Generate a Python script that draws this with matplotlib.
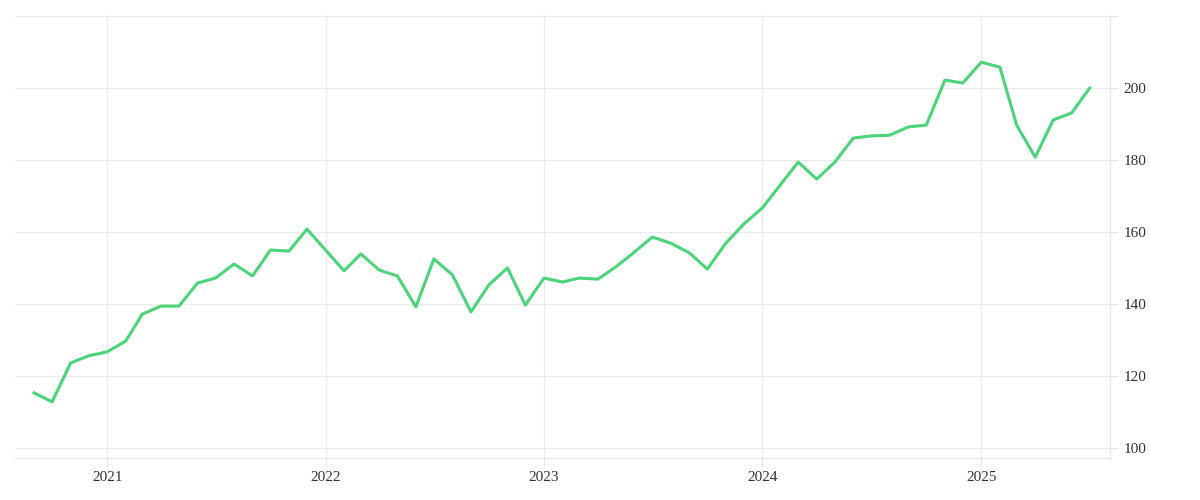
import pandas as pd
import matplotlib
matplotlib.use('Agg')
from matplotlib import pyplot as plt
import matplotlib.dates as mdates

dates = pd.date_range('2020-09-01', periods=59, freq='MS')
values = [115.3, 112.8, 123.6, 125.6, 126.7, 129.7, 137.2, 139.4, 139.4, 145.8,
          147.2, 151.1, 147.8, 155.0, 154.7, 160.8, 155.0, 149.2, 153.9, 149.4,
          147.8, 139.2, 152.5, 148.1, 137.8, 145.3, 150.0, 139.7, 147.2, 146.1,
          147.2, 146.9, 150.3, 154.4, 158.6, 156.9, 154.2, 149.7, 156.9, 162.2,
          166.7, 173.3, 179.4, 174.7, 179.4, 186.1, 186.7, 186.9, 189.2, 189.7,
          202.2, 201.4, 207.2, 205.8, 189.7, 180.8, 191.1, 193.1, 200.0]
yticks = [100, 120, 140, 160, 180, 200]

plt.rcParams['font.family'] = ['Liberation Serif', 'DejaVu Serif']
fig = plt.figure(figsize=(12, 5), dpi=100)
ax = fig.add_axes([0.0125, 0.084, 0.9125, 0.886])
ax.plot(dates, values, color='#4cd47a', linewidth=2.2)

ax.set_ylim(97.2, 220.3)
ax.set_xlim(pd.Timestamp('2020-07-31'), pd.Timestamp('2025-08-04'))
ax.yaxis.tick_right()
ax.set_yticks(yticks + [220])
ax.set_yticklabels([str(v) for v in yticks] + [''])
ax.xaxis.set_major_locator(mdates.YearLocator())
ax.xaxis.set_major_formatter(mdates.DateFormatter('%Y'))
ax.grid(True, color='#ebebeb', linewidth=0.8)
for s in ['top', 'left']:
    ax.spines[s].set_visible(False)
for s in ['bottom', 'right']:
    ax.spines[s].set_color('#e6e6e6')
ax.tick_params(length=6, color='#e6e6e6', labelsize=11, labelcolor='#333333')
fig.savefig('out.png')
